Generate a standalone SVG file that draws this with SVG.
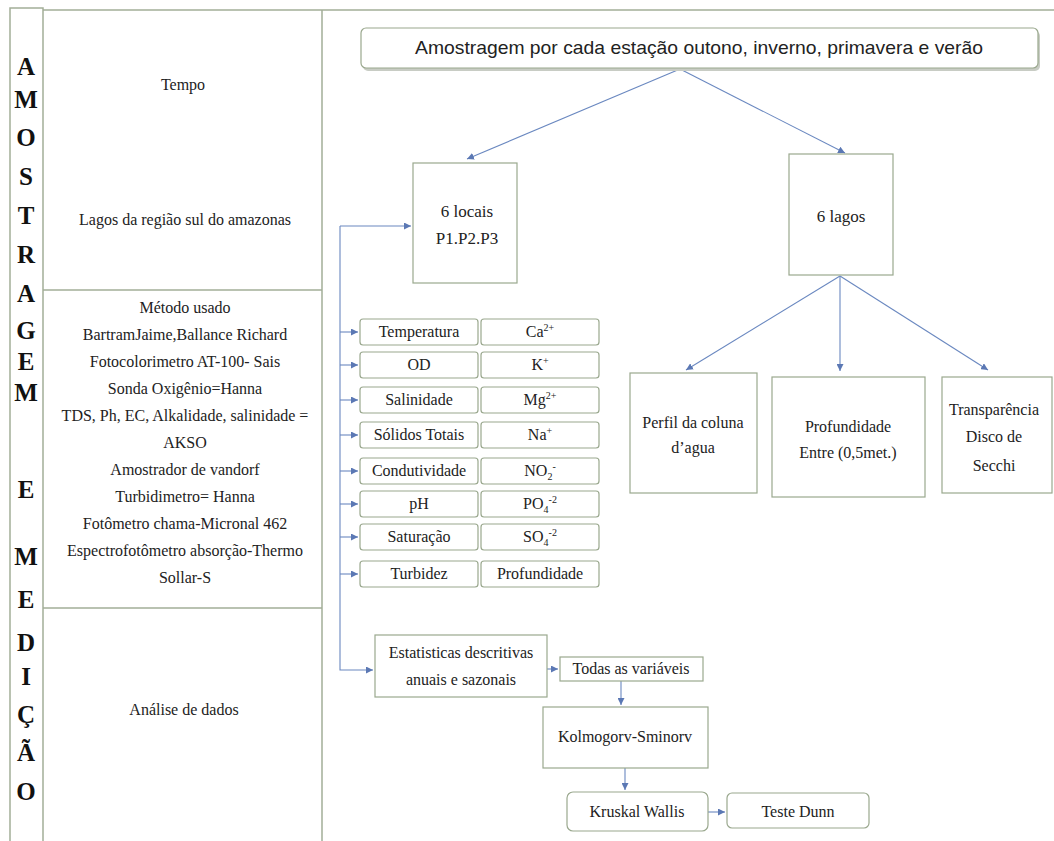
<svg xmlns="http://www.w3.org/2000/svg" width="1054" height="841" viewBox="0 0 1054 841">
<style>
.frame{fill:none;stroke:#a3ae98;stroke-width:1.5}
.box{fill:#fff;stroke:#9aa88e;stroke-width:1.2}
.rbox{fill:#fff;stroke:#9aa88e;stroke-width:1.2}
.con{fill:none;stroke:#6a88c0;stroke-width:1.1}
.t{font-family:"Liberation Serif","Times New Roman",serif;font-size:16px;fill:#222;text-anchor:middle}
.big{font-size:17px}
.v{font-family:"Liberation Serif","Times New Roman",serif;font-size:25px;font-weight:bold;fill:#111;text-anchor:middle}
.title{font-family:"Liberation Sans",Arial,sans-serif;font-size:19px;fill:#222;text-anchor:middle}
.sup{font-size:10px}
</style>
<defs>
<marker id="arr" viewBox="0 0 8 8" refX="8" refY="4" markerWidth="7" markerHeight="7" markerUnits="userSpaceOnUse" orient="auto">
<path d="M0,0 L8,4 L0,8 z" fill="#5b78b4"/>
</marker>
</defs>
<rect width="1054" height="841" fill="#fff"/>

<g id="frame">
<path class="frame" d="M10,841 V8 H43 V841 M43,10 H1054 M322,10 V841 M43,290 H322 M43,608 H322"/>
</g>

<g id="vertical-label">
<text class="v" x="26" y="75">A</text>
<text class="v" x="26" y="108">M</text>
<text class="v" x="26" y="146">O</text>
<text class="v" x="26" y="185">S</text>
<text class="v" x="26" y="224">T</text>
<text class="v" x="26" y="263">R</text>
<text class="v" x="26" y="302">A</text>
<text class="v" x="26" y="339">G</text>
<text class="v" x="26" y="370">E</text>
<text class="v" x="26" y="401">M</text>
<text class="v" x="26" y="498">E</text>
<text class="v" x="26" y="565">M</text>
<text class="v" x="26" y="608">E</text>
<text class="v" x="26" y="651">D</text>
<text class="v" x="26" y="685">I</text>
<text class="v" x="26" y="723">Ç</text>
<text class="v" x="26" y="761">Ã</text>
<text class="v" x="26" y="800">O</text>
</g>

<g id="col-tempo">
<text class="t" x="183" y="90">Tempo</text>
<text class="t" x="185" y="225">Lagos da região sul do amazonas</text>
</g>

<g id="col-metodo">
<text class="t" x="185" y="313">Método usado</text>
<text class="t" x="185" y="340">BartramJaime,Ballance Richard</text>
<text class="t" x="185" y="367">Fotocolorimetro AT-100- Sais</text>
<text class="t" x="185" y="394">Sonda Oxigênio=Hanna</text>
<text class="t" x="185" y="421">TDS, Ph, EC, Alkalidade, salinidade =</text>
<text class="t" x="185" y="448">AKSO</text>
<text class="t" x="185" y="475">Amostrador de vandorf</text>
<text class="t" x="185" y="502">Turbidimetro= Hanna</text>
<text class="t" x="185" y="529">Fotômetro chama-Micronal 462</text>
<text class="t" x="185" y="556">Espectrofotômetro absorção-Thermo</text>
<text class="t" x="185" y="583">Sollar-S</text>
</g>

<g id="col-analise">
<text class="t" x="184" y="715">Análise de dados</text>
</g>

<g id="connectors">
<path class="con" d="M680,69 L467,159" marker-end="url(#arr)"/>
<path class="con" d="M680,69 L845,153" marker-end="url(#arr)"/>
<path class="con" d="M340,226 H411" marker-end="url(#arr)"/>
<path class="con" d="M340,226 V670 H373" marker-end="url(#arr)"/>
<path class="con" d="M340,332 H358" marker-end="url(#arr)"/>
<path class="con" d="M340,365 H358" marker-end="url(#arr)"/>
<path class="con" d="M340,400 H358" marker-end="url(#arr)"/>
<path class="con" d="M340,435 H358" marker-end="url(#arr)"/>
<path class="con" d="M340,471 H358" marker-end="url(#arr)"/>
<path class="con" d="M340,504 H358" marker-end="url(#arr)"/>
<path class="con" d="M340,537 H358" marker-end="url(#arr)"/>
<path class="con" d="M340,574 H358" marker-end="url(#arr)"/>
<path class="con" d="M840,276 L686,370" marker-end="url(#arr)"/>
<path class="con" d="M840,276 V371" marker-end="url(#arr)"/>
<path class="con" d="M840,276 L988,370" marker-end="url(#arr)"/>
<path class="con" d="M547,669 H558" marker-end="url(#arr)"/>
<path class="con" d="M621,681 V705" marker-end="url(#arr)"/>
<path class="con" d="M625,768 V790" marker-end="url(#arr)"/>
<path class="con" d="M708,812 H725" marker-end="url(#arr)"/>
</g>

<g id="title">
<rect x="363" y="31" width="677" height="40" rx="5" fill="#c8ccc4"/>
<rect class="rbox" x="361" y="28" width="677" height="40" rx="5"/>
<text class="title" x="699" y="54" textLength="568" lengthAdjust="spacingAndGlyphs">Amostragem por cada estação outono, inverno, primavera e verão</text>
</g>

<g id="n-locais">
<rect class="box" x="413" y="163" width="104" height="120"/>
<text class="t big" x="467" y="217">6 locais</text>
<text class="t big" x="467" y="244">P1.P2.P3</text>
</g>

<g id="n-lagos">
<rect class="box" x="789" y="154" width="104" height="121"/>
<text class="t big" x="841" y="222">6 lagos</text>
</g>

<g id="n-perfil">
<rect class="box" x="630" y="373" width="127" height="120"/>
<text class="t" x="693" y="428">Perfil da coluna</text>
<text class="t" x="693" y="453">d’agua</text>
</g>

<g id="n-profundidade">
<rect class="box" x="772" y="377" width="153" height="120"/>
<text class="t" x="848" y="432">Profundidade</text>
<text class="t" x="848" y="458">Entre (0,5met.)</text>
</g>

<g id="n-transparencia">
<rect class="box" x="942" y="377" width="110" height="116"/>
<text class="t" x="994" y="415">Transparência</text>
<text class="t" x="994" y="442">Disco de</text>
<text class="t" x="994" y="471">Secchi</text>
</g>

<g id="p-temperatura"><rect class="rbox" x="360" y="319" width="118" height="26" rx="3"/><text class="t" x="419" y="337">Temperatura</text></g>
<g id="p-ca"><rect class="rbox" x="481" y="319" width="118" height="26" rx="3"/><text class="t" x="540" y="337">Ca<tspan class="sup" dy="-6">2+</tspan></text></g>
<g id="p-od"><rect class="rbox" x="360" y="352" width="118" height="26" rx="3"/><text class="t" x="419" y="370">OD</text></g>
<g id="p-k"><rect class="rbox" x="481" y="352" width="118" height="26" rx="3"/><text class="t" x="540" y="370">K<tspan class="sup" dy="-6">+</tspan></text></g>
<g id="p-salinidade"><rect class="rbox" x="360" y="387" width="118" height="26" rx="3"/><text class="t" x="419" y="405">Salinidade</text></g>
<g id="p-mg"><rect class="rbox" x="481" y="387" width="118" height="26" rx="3"/><text class="t" x="540" y="405">Mg<tspan class="sup" dy="-6">2+</tspan></text></g>
<g id="p-solidos"><rect class="rbox" x="360" y="422" width="118" height="26" rx="3"/><text class="t" x="419" y="440">Sólidos Totais</text></g>
<g id="p-na"><rect class="rbox" x="481" y="422" width="118" height="26" rx="3"/><text class="t" x="540" y="440">Na<tspan class="sup" dy="-6">+</tspan></text></g>
<g id="p-condutividade"><rect class="rbox" x="360" y="458" width="118" height="26" rx="3"/><text class="t" x="419" y="476">Condutividade</text></g>
<g id="p-no2"><rect class="rbox" x="481" y="458" width="118" height="26" rx="3"/><text class="t" x="540" y="476">NO<tspan class="sup" dy="4">2</tspan><tspan class="sup" dy="-10">-</tspan></text></g>
<g id="p-ph"><rect class="rbox" x="360" y="491" width="118" height="26" rx="3"/><text class="t" x="419" y="509">pH</text></g>
<g id="p-po4"><rect class="rbox" x="481" y="491" width="118" height="26" rx="3"/><text class="t" x="540" y="509">PO<tspan class="sup" dy="4">4</tspan><tspan class="sup" dy="-10">-2</tspan></text></g>
<g id="p-saturacao"><rect class="rbox" x="360" y="524" width="118" height="26" rx="3"/><text class="t" x="419" y="542">Saturação</text></g>
<g id="p-so4"><rect class="rbox" x="481" y="524" width="118" height="26" rx="3"/><text class="t" x="540" y="542">SO<tspan class="sup" dy="4">4</tspan><tspan class="sup" dy="-10">-2</tspan></text></g>
<g id="p-turbidez"><rect class="rbox" x="360" y="561" width="118" height="26" rx="3"/><text class="t" x="419" y="579">Turbidez</text></g>
<g id="p-profundidade"><rect class="rbox" x="481" y="561" width="118" height="26" rx="3"/><text class="t" x="540" y="579">Profundidade</text></g>

<g id="n-estatisticas">
<rect class="box" x="375" y="635" width="172" height="62"/>
<text class="t" x="461" y="658">Estatisticas descritivas</text>
<text class="t" x="461" y="685">anuais e sazonais</text>
</g>

<g id="n-todas">
<rect class="box" x="560" y="657" width="143" height="24"/>
<text class="t" x="631" y="674">Todas as variáveis</text>
</g>

<g id="n-kolmogorv">
<rect class="box" x="543" y="707" width="165" height="61"/>
<text class="t" x="625" y="742">Kolmogorv-Sminorv</text>
</g>

<g id="n-kruskal">
<rect class="rbox" x="567" y="792" width="141" height="39" rx="6"/>
<text class="t" x="637" y="817">Kruskal Wallis</text>
</g>

<g id="n-dunn">
<rect class="rbox" x="727" y="793" width="142" height="35" rx="5"/>
<text class="t" x="798" y="817">Teste Dunn</text>
</g>
</svg>
